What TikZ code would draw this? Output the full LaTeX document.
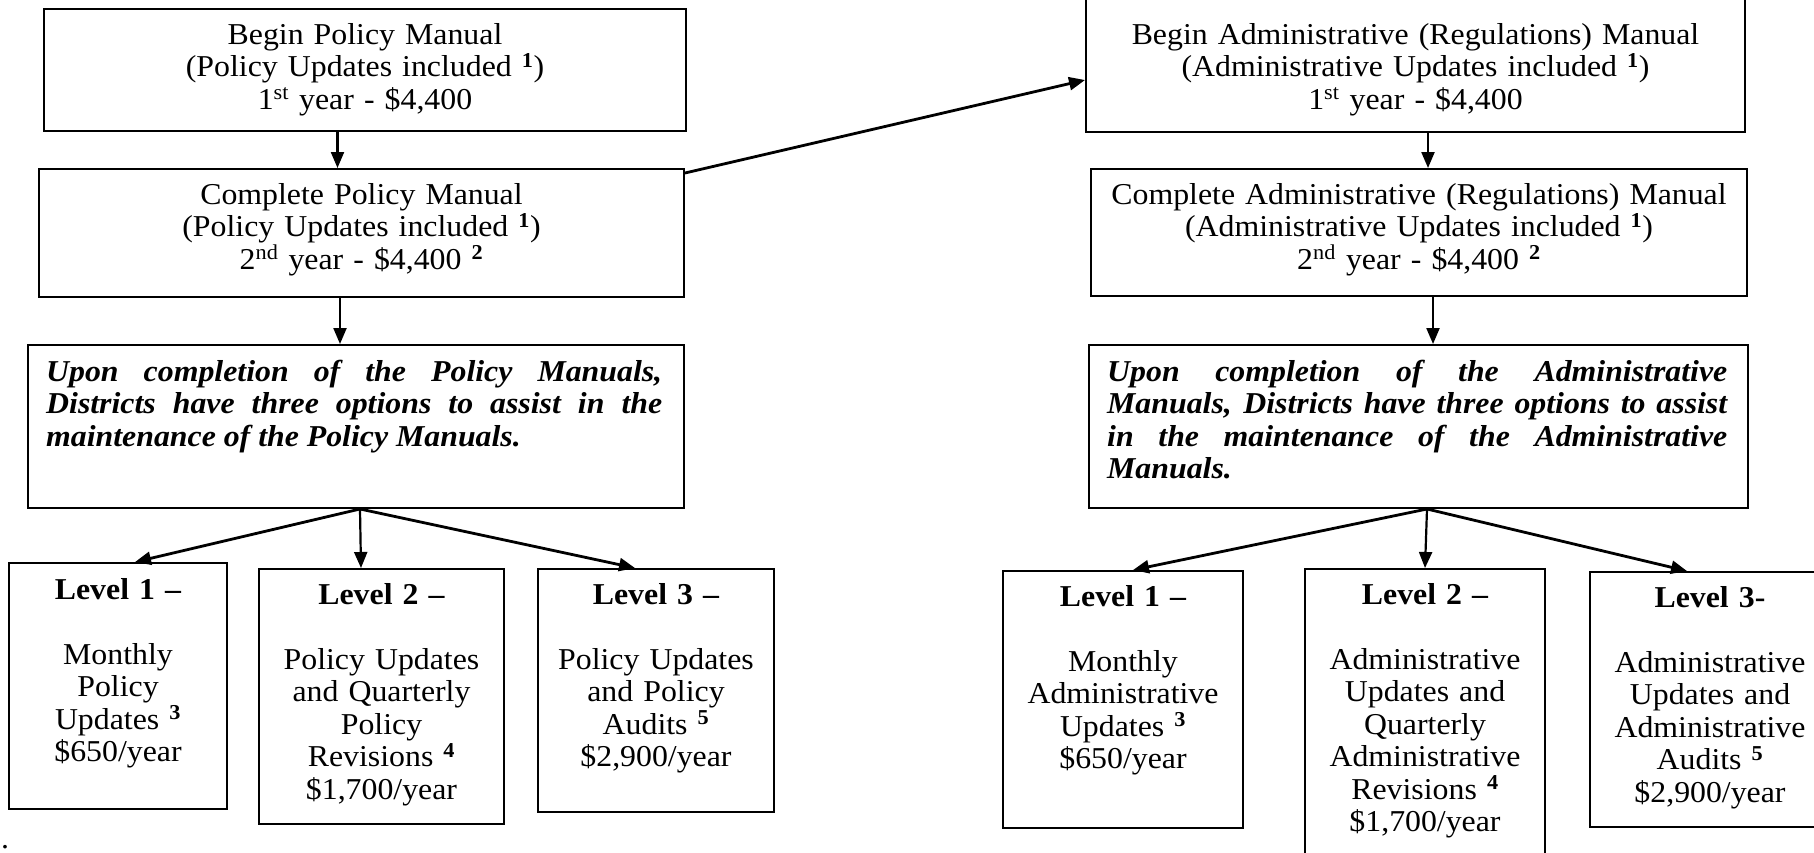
\documentclass[tikz,border=0pt]{standalone}
\usepackage{fontspec}
\setmainfont{Liberation Serif}[FakeStretch=1.05]
\usetikzlibrary{arrows.meta,calc,fit}
\newcommand\bodyfont{\fontsize{30.3}{32.5}\selectfont\lineskiplimit=-20pt\relax\hyphenpenalty=10000\relax}
\newcommand\bsup[1]{\textsuperscript{\textbf{#1}}}
\begin{document}
\begin{tikzpicture}[x=1pt,y=-1pt,
  box/.style={draw, line width=2pt, inner sep=0pt, rectangle},
  txt/.style={inner sep=0pt, anchor=base, align=center, font=\bodyfont},
  jtxt/.style={inner sep=0pt, anchor=base west, align=justify, font=\bodyfont\bfseries\itshape},
  arr/.style={line width=2.2pt, -{Triangle[length=16pt,width=13pt]}},
  darr/.style={arr, line width=2.8pt}]
\clip (0,0) rectangle (1814,852);
% boxes, left column
\node[box, fit={(44,9) (686,131)}] (A) {};
\node[box, fit={(39,169) (684,297)}] (B) {};
\node[box, fit={(28,345) (684,508)}] (C) {};
\node[box, fit={(9,563) (227,809)}] (L1) {};
\node[box, fit={(259,569) (504,824)}] (L2) {};
\node[box, fit={(538,569) (774,812)}] (L3) {};
% boxes, right column
\node[box, fit={(1086,-2) (1745,132)}] (D) {};
\node[box, fit={(1091,169) (1747,296)}] (E) {};
\node[box, fit={(1089,345) (1748,508)}] (F) {};
\node[box, fit={(1003,571) (1243,828)}] (R1) {};
\node[box, fit={(1305,569) (1545,870)}] (R2) {};
\node[box, fit={(1590,572) (1830,827)}] (R3) {};
% texts
\node[txt, text width=620pt] (At) at ($(A.north)+(0,36)$) {Begin Policy Manual\\(Policy Updates included \bsup{1})\\1\textsuperscript{st} year - \$4,400};
\node[txt, text width=620pt] (Bt) at ($(B.north)+(0,36)$) {Complete Policy Manual\\(Policy Updates included \bsup{1})\\2\textsuperscript{nd} year - \$4,400 \bsup{2}};
\node[jtxt, text width=616pt] (Ct) at ($(C.north west)+(19,37)$) {Upon completion of the Policy Manuals,\linebreak Districts have three options to assist in the\linebreak maintenance of the Policy Manuals.};
\node[txt, text width=210pt] (L1t) at ($(L1.north)+(0,37)$) {\textbf{Level 1 –}\\[32.5pt]Monthly\\Policy\\Updates \bsup{3}\\\$650/year};
\node[txt, text width=236pt] (L2t) at ($(L2.north)+(0,36)$) {\textbf{Level 2 –}\\[32.5pt]Policy Updates\\and Quarterly\\Policy\\Revisions \bsup{4}\\\$1,700/year};
\node[txt, text width=228pt] (L3t) at ($(L3.north)+(0,36)$) {\textbf{Level 3 –}\\[32.5pt]Policy Updates\\and Policy\\Audits \bsup{5}\\\$2,900/year};
\node[txt, text width=640pt] (Dt) at ($(D.north)+(0,47)$) {Begin Administrative (Regulations) Manual\\(Administrative Updates included \bsup{1})\\1\textsuperscript{st} year - \$4,400};
\node[txt, text width=640pt] (Et) at ($(E.north)+(0,36)$) {Complete Administrative (Regulations) Manual\\(Administrative Updates included \bsup{1})\\2\textsuperscript{nd} year - \$4,400 \bsup{2}};
\node[jtxt, text width=620pt] (Ft) at ($(F.north west)+(19,37)$) {Upon completion of the Administrative\linebreak Manuals, Districts have three options to assist\linebreak in the maintenance of the Administrative\linebreak Manuals.};
\node[txt, text width=232pt] (R1t) at ($(R1.north)+(0,36)$) {\textbf{Level 1 –}\\[32.5pt]Monthly\\Administrative\\Updates \bsup{3}\\\$650/year};
\node[txt, text width=232pt] (R2t) at ($(R2.north)+(0,36)$) {\textbf{Level 2 –}\\[32.5pt]Administrative\\Updates and\\Quarterly\\Administrative\\Revisions \bsup{4}\\\$1,700/year};
\node[txt, text width=232pt] (R3t) at ($(R3.north)+(0,36)$) {\textbf{Level 3-}\\[32.5pt]Administrative\\Updates and\\Administrative\\Audits \bsup{5}\\\$2,900/year};
\node[inner sep=0pt, anchor=base west, font=\bodyfont] (dot) at (1,848) {.};
% connector x positions
\coordinate (ab) at (337.5,0);
\coordinate (bc) at (340,0);
\coordinate (de) at (1428,0);
\coordinate (ef) at (1433,0);
\coordinate (cs) at (360,0);
\coordinate (l1) at (135,0);
\coordinate (l2) at (361,0);
\coordinate (l3) at (635,0);
\coordinate (fs) at (1427,0);
\coordinate (r1) at (1133,0);
\coordinate (r2) at (1425,0);
\coordinate (r3) at (1687,0);
% connectors
\draw[arr] (A.south -| ab) -- (B.north -| ab);
\draw[arr] (B.south -| bc) -- (C.north -| bc);
\draw[arr] (D.south -| de) -- (E.north -| de);
\draw[arr] (E.south -| ef) -- (F.north -| ef);
\draw[darr] (C.south -| cs) -- (L1.north -| l1);
\draw[arr] (C.south -| cs) -- (L2.north -| l2);
\draw[darr] (C.south -| cs) -- (L3.north -| l3);
\draw[darr] (F.south -| fs) -- (R1.north -| r1);
\draw[arr] (F.south -| fs) -- (R2.north -| r2);
\draw[darr] (F.south -| fs) -- (R3.north -| r3);
\draw[darr] ($(B.north east)+(0,5)$) -- ($(D.north west)+(0,83)$);
\end{tikzpicture}
\end{document}
